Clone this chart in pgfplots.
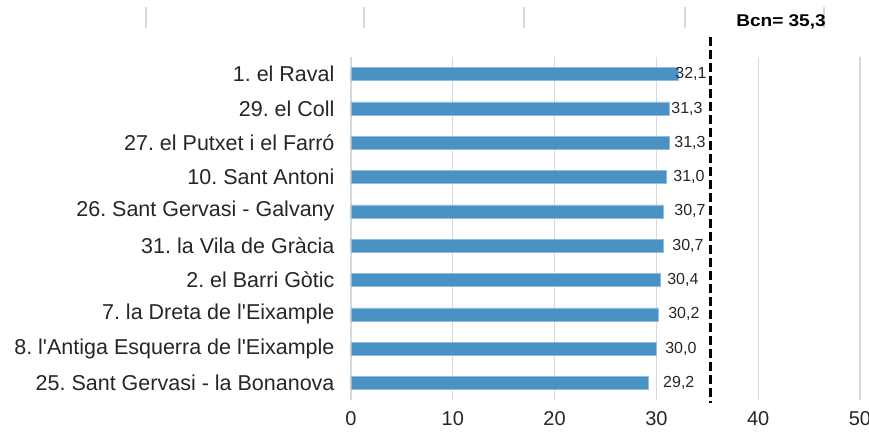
\documentclass[border=0pt]{standalone}
\usepackage{fontspec}
\setmainfont{Liberation Sans}
\usepackage{pgfplots}
\pgfplotsset{compat=1.18}
\definecolor{barblue}{RGB}{74,145,196}
\definecolor{gridgray}{RGB}{217,217,217}
\frenchspacing
\begin{document}
\begin{tikzpicture}
\useasboundingbox (-351pt,-33pt) rectangle (518pt,400pt);
\foreach \x in {146,364,524,685,824} {\draw[gridgray, line width=1.2pt] (\x pt-351pt,372pt) -- (\x pt-351pt,393pt);}
\begin{axis}[
  scale only axis, width=509pt, height=343pt,
  at={(0pt,0pt)}, anchor=south west,
  xmin=0, xmax=50, ymin=-0.5, ymax=9.5, y dir=reverse,
  xtick={0,10,...,50}, ytick={0,...,9},
  yticklabels={1. el Raval, 29. el Coll, 27. el Putxet i el Farró, 10. Sant Antoni, 26. Sant Gervasi - Galvany, 31. la Vila de Gràcia, 2. el Barri Gòtic, 7. la Dreta de l\textquotesingle Eixample, 8. l\textquotesingle Antiga Esquerra de l\textquotesingle Eixample, 25. Sant Gervasi - la Bonanova},
  xmajorgrids, grid style={gridgray, line width=1.2pt},
  axis line style={draw=none}, major tick length=0pt,
  xticklabel style={font=\fontsize{20}{24}\selectfont, text=black!85, yshift=-8pt},
  yticklabel style={font=\fontsize{21.5}{25}\selectfont, text=black!85, xshift=-13pt},
  /pgf/number format/assume math mode=true,
  clip=false,
]
\addplot[xbar, bar width=13pt, fill=barblue, draw=barblue!60!white] coordinates {
(32.1,0) (31.3,1) (31.3,2) (31.0,3) (30.7,4) (30.7,5) (30.4,6) (30.2,7) (30.0,8) (29.2,9)};
\addplot[draw=none, mark=none, nodes near coords, point meta=explicit symbolic,
  nodes near coords style={anchor=center, font=\fontsize{16}{19}\selectfont, text=black!85}]
  table[meta=label] {
x y label
33.4 0 32,1
33.0 1 31,3
33.3 2 31,3
33.2 3 31,0
33.3 4 30,7
33.1 5 30,7
32.6 6 30,4
32.7 7 30,2
32.4 8 30,0
32.2 9 29,2
};
\addplot[black, line width=3.5pt, dash pattern=on 9pt off 4pt] coordinates {(35.3,-1.08) (35.3,9.59)};
\node[font=\bfseries\fontsize{17}{20}\selectfont] at (axis cs:42.24,-1.535) {\scalebox{1.12}[1]{Bcn= 35,3}};
\end{axis}
\end{tikzpicture}
\end{document}
